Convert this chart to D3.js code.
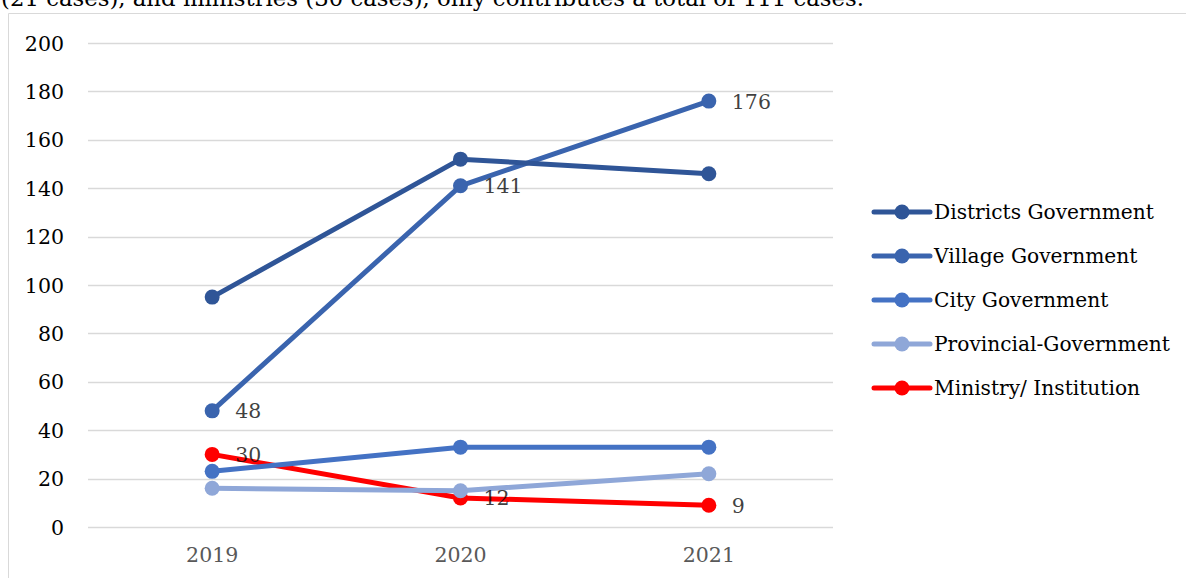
<!DOCTYPE html>
<html>
<head>
<meta charset="utf-8">
<script src="https://cdn.jsdelivr.net/npm/d3@7"></script>
<style>
  html, body { margin: 0; padding: 0; background: #fff; }
  svg { display: block; }
</style>
</head>
<body>
<svg id="chart" width="1186" height="578"></svg>
<script>
// Cases per year, by level of government
const years = ["2019", "2020", "2021"];
const seriesNames = ["Districts Government", "Village Government", "City Government", "Provincial-Government", "Ministry/ Institution"];
const districts = [95, 152, 146];
const village = [48, 141, 176];
const city = [23, 33, 33];
const provincial = [16, 15, 22];
const ministry = [30, 12, 9];
const yTicks = [0, 20, 40, 60, 80, 100, 120, 140, 160, 180, 200];
const seriesColors = ["#2F5597", "#3A64AE", "#4472C4", "#8FA7D8", "#FF0000"];
// series that carry value labels
const labelled = [false, true, false, false, true];

const seriesValues = [districts, village, city, provincial, ministry];
const series = seriesNames.map((name, i) => ({
  name, color: seriesColors[i], labelled: labelled[i],
  values: seriesValues[i].map((v, j) => ({ year: years[j], value: v }))
}));

const FONT = "'DejaVu Serif', 'Liberation Serif', serif";
const svg = d3.select("#chart");

// caption line from the surrounding text, cut by the frame
svg.append("text")
  .attr("x", 1).attr("y", 5.5)
  .attr("font-family", FONT).attr("font-size", 22.8)
  .attr("fill", "#000")
  .text("(21 cases), and ministries (30 cases), only contributes a total of 111 cases.");

// chart frame
svg.append("rect").attr("x", 0).attr("y", 13).attr("width", 1186).attr("height", 578 - 13).attr("fill", "#fff");
svg.append("line").attr("x1", 8.5).attr("x2", 1186).attr("y1", 13.5).attr("y2", 13.5).attr("stroke", "#d9d9d9");
svg.append("line").attr("x1", 8.5).attr("x2", 8.5).attr("y1", 13.5).attr("y2", 578).attr("stroke", "#d9d9d9");

const plot = { left: 88, right: 833, top: 43, bottom: 527 };

const x = d3.scaleBand().domain(years).range([plot.left, plot.right]);
const y = d3.scaleLinear().domain([0, 200]).range([plot.bottom, plot.top]);
const cx = d => x(d) + x.bandwidth() / 2;

// gridlines
svg.append("g").selectAll("line").data(yTicks).join("line")
  .attr("x1", plot.left).attr("x2", plot.right)
  .attr("y1", d => Math.round(y(d)) + 0.5).attr("y2", d => Math.round(y(d)) + 0.5)
  .attr("stroke", "#d9d9d9").attr("stroke-width", 1.3);

// y axis labels
const yAxis = svg.append("g").attr("transform", `translate(${plot.left},0)`)
  .call(d3.axisLeft(y).tickValues(yTicks).tickSize(0).tickPadding(24));
yAxis.select(".domain").remove();
yAxis.selectAll("text").attr("font-family", FONT).attr("font-size", 20.5).attr("fill", "#000")
  .attr("dy", "0.35em");

// x axis labels
const xAxis = svg.append("g").attr("transform", `translate(0,${plot.bottom})`)
  .call(d3.axisBottom(x).tickSize(0).tickPadding(20));
xAxis.select(".domain").remove();
xAxis.selectAll("text").attr("font-family", FONT).attr("font-size", 20.5).attr("fill", "#595959")
  .attr("dy", "0.71em");

const line = d3.line().x(d => cx(d.year)).y(d => y(d.value));

// draw from the bottom of the legend upward so the first series sits on top
const drawOrder = series.slice().reverse();
const g = svg.append("g");
drawOrder.forEach(s => {
  g.append("path").datum(s.values)
    .attr("d", line).attr("fill", "none")
    .attr("stroke", s.color).attr("stroke-width", 5).attr("stroke-linejoin", "round");
  g.selectAll(null).data(s.values).join("circle")
    .attr("cx", d => cx(d.year)).attr("cy", d => y(d.value)).attr("r", 7.5)
    .attr("fill", s.color);
});

// value labels
series.filter(s => s.labelled).forEach(s => {
  svg.append("g").selectAll("text").data(s.values).join("text")
    .attr("x", d => cx(d.year) + 23).attr("y", d => y(d.value) + 7.5)
    .attr("font-family", FONT).attr("font-size", 20.5)
    .attr("fill", "#0d0d0d").attr("fill-opacity", 0.8)
    .text(d => d.value);
});

// legend
const legend = svg.append("g").attr("transform", "translate(874,212)");
series.forEach((s, i) => {
  const row = legend.append("g").attr("transform", `translate(0,${i * 44})`);
  row.append("line").attr("x1", 0).attr("x2", 56).attr("y1", 0).attr("y2", 0)
    .attr("stroke", s.color).attr("stroke-width", 5).attr("stroke-linecap", "round");
  row.append("circle").attr("cx", 28).attr("cy", 0).attr("r", 7.5).attr("fill", s.color);
  row.append("text").attr("x", 60).attr("y", 0).attr("dy", "0.35em")
    .attr("font-family", FONT).attr("font-size", 20.2).attr("fill", "#000")
    .text(s.name);
});
</script>
</body>
</html>
